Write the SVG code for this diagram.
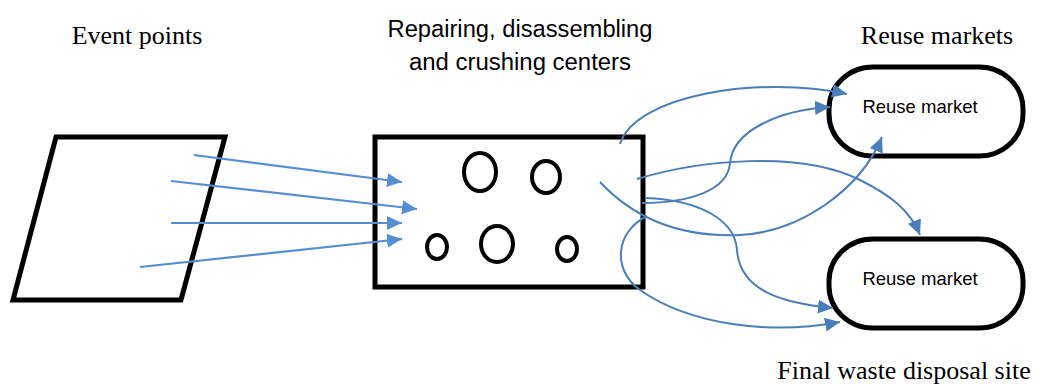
<svg xmlns="http://www.w3.org/2000/svg" width="1038" height="385" viewBox="0 0 1038 385">
<style>
.serif{font-family:"Liberation Serif","Times New Roman",serif;font-size:26px;fill:#000}
.sans{font-family:"Liberation Sans",Arial,sans-serif;fill:#000}
.shape{fill:#fff;stroke:#000;stroke-width:5}
.oval{fill:none;stroke:#000;stroke-width:4}
.in{fill:none;stroke:#558ED5;stroke-width:2.2}
.out{fill:none;stroke:#4A7EBB;stroke-width:2}
</style>
<defs>
<marker id="ahL" markerUnits="userSpaceOnUse" markerWidth="16" markerHeight="14" refX="15" refY="7" orient="auto">
<path d="M0,0 L15,7 L0,14 z" fill="#558ED5"/>
</marker>
<marker id="ahR" markerUnits="userSpaceOnUse" markerWidth="16" markerHeight="14" refX="15" refY="7" orient="auto">
<path d="M0,0 L15,7 L0,14 z" fill="#4A7EBB"/>
</marker>
</defs>
<rect width="1038" height="385" fill="#fff"/>
<g id="labels">
<text class="serif" x="137" y="44" text-anchor="middle">Event points</text>
<text class="sans" x="520" y="37" text-anchor="middle" font-size="23" textLength="265" lengthAdjust="spacingAndGlyphs">Repairing, disassembling</text>
<text class="sans" x="520" y="70" text-anchor="middle" font-size="23" textLength="222" lengthAdjust="spacingAndGlyphs">and crushing centers</text>
<text class="serif" x="937" y="44" text-anchor="middle">Reuse markets</text>
<text class="serif" x="904" y="379" text-anchor="middle">Final waste disposal site</text>
</g>
<g id="event-points">
<polygon class="shape" points="56,137 225,137 181,300 13,300"/>
</g>
<g id="centers">
<rect class="shape" x="375" y="137" width="268" height="150"/>
<ellipse class="oval" cx="480" cy="172" rx="16" ry="19"/>
<ellipse class="oval" cx="546" cy="177" rx="14" ry="16"/>
<ellipse class="oval" cx="437" cy="247" rx="10" ry="12"/>
<ellipse class="oval" cx="497" cy="244" rx="16" ry="18"/>
<ellipse class="oval" cx="567" cy="249" rx="10" ry="12"/>
</g>
<g id="reuse-market-1">
<rect class="shape" x="829" y="67" width="194" height="89" rx="44" ry="42"/>
<text class="sans" x="920" y="113" text-anchor="middle" font-size="18.5">Reuse market</text>
</g>
<g id="reuse-market-2">
<rect class="shape" x="829" y="239" width="194" height="89" rx="44" ry="42"/>
<text class="sans" x="920" y="285" text-anchor="middle" font-size="18.5">Reuse market</text>
</g>
<g id="connectors">
<line class="in" x1="194" y1="155" x2="402" y2="182" marker-end="url(#ahL)"/>
<line class="in" x1="171" y1="181" x2="417" y2="209" marker-end="url(#ahL)"/>
<line class="in" x1="171" y1="223" x2="402" y2="223" marker-end="url(#ahL)"/>
<line class="in" x1="140" y1="267" x2="402" y2="239" marker-end="url(#ahL)"/>
<path class="out" d="M620,144 C635,95 760,75 847,94" marker-end="url(#ahR)"/>
<path class="out" d="M642,203 C690,203 728,190 730,163 C733,130 780,110 830,107" marker-end="url(#ahR)"/>
<path class="out" d="M637,179 C700,160 800,150 860,180 C890,195 910,210 920,235" marker-end="url(#ahR)"/>
<path class="out" d="M600,182 C640,225 690,237 740,235 C800,232 860,190 882,137" marker-end="url(#ahR)"/>
<path class="out" d="M645,198 C700,200 735,220 737,250 C740,290 780,303 833,308" marker-end="url(#ahR)"/>
<path class="out" d="M647,216 C615,232 612,270 640,290 C690,325 770,335 840,322" marker-end="url(#ahR)"/>
</g>
</svg>
